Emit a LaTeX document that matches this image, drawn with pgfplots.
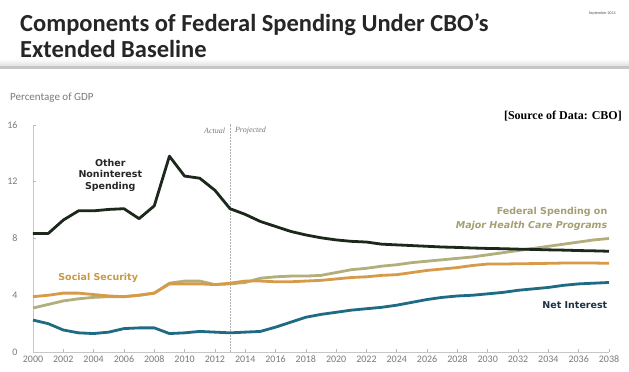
\documentclass[border=0pt]{standalone}
\usepackage{pgfplots}
\pgfplotsset{compat=1.18}
\usepackage{fontspec}
\setmainfont{Carlito}
\newfontfamily\seriffont{Liberation Serif}
\newfontfamily\labfont{DejaVu Sans}
\definecolor{blk}{HTML}{1C281C}
\definecolor{hc}{HTML}{B3AF7C}
\definecolor{ss}{HTML}{D69A48}
\definecolor{ni}{HTML}{1F6B84}
\definecolor{txtgray}{HTML}{7A7A7A}
\definecolor{hclab}{HTML}{A59F72}
\definecolor{sslab}{HTML}{C99A45}
\definecolor{nilab}{HTML}{1B3245}

\pgfplotstableread{
year oth hc ss ni
2000 8.35 3.10 3.90 2.25
2001 8.35 3.35 4.00 2.00
2002 9.30 3.60 4.15 1.55
2003 9.95 3.75 4.15 1.35
2004 9.95 3.85 4.05 1.30
2005 10.05 3.90 3.95 1.40
2006 10.10 3.90 3.90 1.65
2007 9.40 4.00 4.00 1.70
2008 10.30 4.15 4.15 1.70
2009 13.80 4.85 4.80 1.30
2010 12.40 5.00 4.80 1.35
2011 12.25 5.00 4.80 1.45
2012 11.40 4.75 4.75 1.40
2013 10.10 4.80 4.85 1.35
2014 9.70 4.90 5.00 1.40
2015 9.20 5.20 5.00 1.45
2016 8.85 5.30 4.95 1.75
2017 8.50 5.35 4.95 2.10
2018 8.25 5.35 5.00 2.45
2019 8.05 5.40 5.05 2.65
2020 7.90 5.60 5.15 2.80
2021 7.80 5.80 5.25 2.95
2022 7.75 5.90 5.30 3.05
2023 7.60 6.05 5.40 3.15
2024 7.55 6.15 5.45 3.30
2025 7.50 6.30 5.60 3.50
2026 7.45 6.40 5.75 3.70
2027 7.40 6.50 5.85 3.85
2028 7.37 6.60 5.95 3.95
2029 7.33 6.70 6.10 4.00
2030 7.30 6.85 6.20 4.10
2031 7.28 7.00 6.20 4.20
2032 7.25 7.15 6.22 4.35
2033 7.23 7.30 6.23 4.45
2034 7.20 7.45 6.25 4.55
2035 7.18 7.60 6.27 4.70
2036 7.15 7.75 6.28 4.80
2037 7.13 7.90 6.27 4.85
2038 7.10 8.00 6.25 4.90
}\datatable

\begin{document}
\begin{tikzpicture}[x=1pt,y=1pt]
\useasboundingbox (0pt,0pt) rectangle (629pt,372pt);
\fill[white] (0pt,0pt) rectangle (629pt,372pt);
% header
\shade[top color=white, bottom color=gray!25] (0pt,306pt) rectangle (629pt,313pt);
\fill[gray!45] (0pt,303pt) rectangle (629pt,306pt);
\node[anchor=base west, inner sep=0pt, font=\bfseries\fontsize{24.5}{24.5}\selectfont, text=black!85] at (20pt,340pt) {Components of Federal Spending Under CBO’s};
\node[anchor=base west, inner sep=0pt, font=\bfseries\fontsize{24.5}{24.5}\selectfont, text=black!85] at (20pt,314pt) {Extended Baseline};
\node[anchor=base east, inner sep=0pt, font=\fontsize{4}{4}\selectfont, text=black!70] at (616pt,357pt) {September 2011};
\node[anchor=base west, inner sep=0pt, font=\fontsize{11}{11}\selectfont, text=txtgray] at (10pt,271pt) {Percentage of GDP};
\node[anchor=base east, inner sep=0pt, font=\seriffont\bfseries\fontsize{12}{12}\selectfont] at (622pt,252pt) {[Source of Data: CBO]};

\begin{axis}[
  at={(33pt,20pt)}, anchor=south west,
  scale only axis, width=576pt, height=227pt,
  xmin=2000, xmax=2038, ymin=0, ymax=16,
  enlargelimits=false, clip=false,
  axis x line*=bottom, axis y line*=left,
  axis line style={gray!45, line width=0.8pt},
  xtick={2000,2002,...,2038}, ytick={0,4,8,12,16},
  tick style={gray!55, line width=0.6pt}, major tick length=3pt,
  tick align=inside,
  xticklabel style={/pgf/number format/1000 sep={}, font=\fontsize{10}{10}\selectfont, text=txtgray},
  yticklabel style={font=\fontsize{10}{10}\selectfont, text=txtgray, xshift=-12pt},
  /pgf/number format/assume math mode=true,
]
\draw[gray!60, line width=0.5pt, densely dotted] (axis cs:2013,0) -- (axis cs:2013,16.1);
\node[anchor=east, font=\seriffont\itshape\fontsize{8}{8}\selectfont, text=txtgray] at (axis cs:2012.9,15.6) {Actual};
\node[anchor=west, font=\seriffont\itshape\fontsize{8}{8}\selectfont, text=txtgray] at (axis cs:2013.1,15.6) {Projected};

\addplot[hc, line width=2.8pt, line join=round] table[x=year, y=hc] {\datatable};
\addplot[ss, line width=2.8pt, line join=round] table[x=year, y=ss] {\datatable};
\addplot[ni, line width=2.8pt, line join=round] table[x=year, y=ni] {\datatable};
\addplot[blk, line width=2.8pt, line join=round] table[x=year, y=oth] {\datatable};

\node[align=center, font=\labfont\bfseries\fontsize{9.5}{11.5}\selectfont, text=black!85] at (axis cs:2005.1,12.45) {Other\\Noninterest\\Spending};
\node[anchor=east, align=right, inner sep=0pt, font=\labfont\bfseries\fontsize{9.5}{14}\selectfont, text=hclab] at (axis cs:2037.9,9.37) {Federal Spending on\\\itshape Major Health Care Programs};
\node[font=\labfont\bfseries\fontsize{9.5}{9.5}\selectfont, text=sslab] at (axis cs:2004.3,5.2) {Social Security};
\node[anchor=east, inner sep=0pt, font=\labfont\bfseries\fontsize{9.5}{9.5}\selectfont, text=nilab] at (axis cs:2037.9,3.3) {Net Interest};
\end{axis}
\end{tikzpicture}
\end{document}
